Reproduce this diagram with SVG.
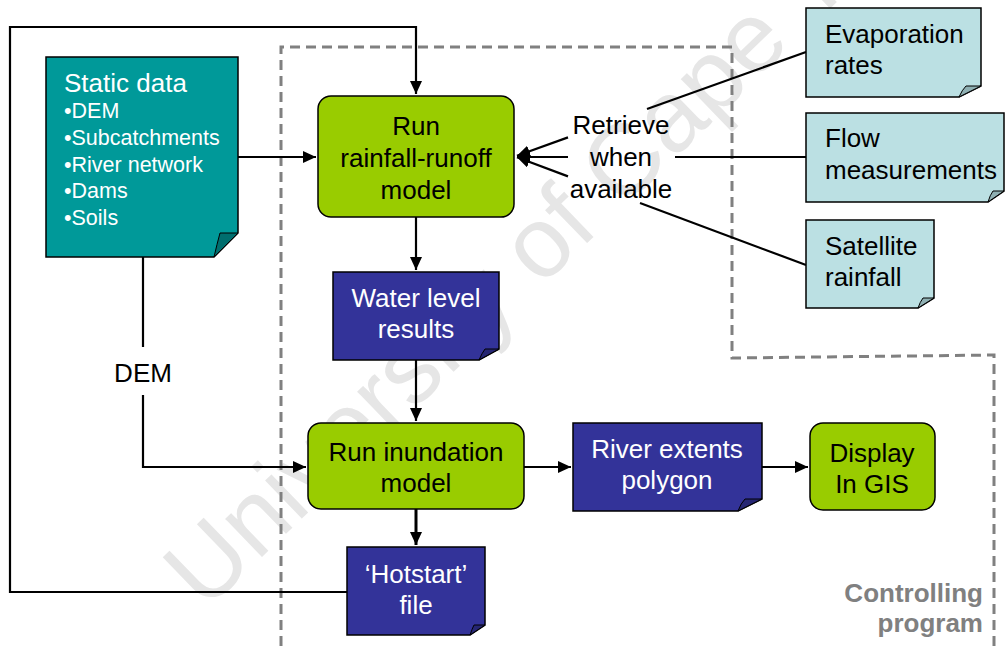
<svg xmlns="http://www.w3.org/2000/svg" width="1005" height="646" viewBox="0 0 1005 646">
<style>
text{font-family:"Liberation Sans",Arial,sans-serif;}
.t{font-size:26px;text-anchor:middle;}
.w{fill:#ffffff;}
.k{fill:#000000;}
.doc{stroke:#000;stroke-width:1.5;}
.fold{stroke:#000;stroke-width:1;}
.g{fill:#99cc00;stroke:#000;stroke-width:1.5;}
.line{fill:none;stroke:#000;stroke-width:2.2;}
.dash{fill:none;stroke:#808080;stroke-width:3;stroke-dasharray:10 6;}
</style>
<defs>
<marker id="ah" markerUnits="userSpaceOnUse" markerWidth="13" markerHeight="12" refX="13" refY="6" orient="auto">
<path d="M0,0 L13,6 L0,12 z" fill="#000"/>
</marker>
</defs>
<rect width="1005" height="646" fill="#fff"/>
<text x="205" y="612" transform="rotate(-44 205 612)" style="font-size:100px;fill:#e6e6e6;">University of Cape Town</text>
<path class="dash" d="M281,646 V47 H732 V358 L994,355 V646"/>
<g id="connectors">
<path class="line" d="M238,157 H316" marker-end="url(#ah)"/>
<path class="line" d="M347,592 H10 V27 H416 V94" marker-end="url(#ah)"/>
<path class="line" d="M416,217 V270" marker-end="url(#ah)"/>
<path class="line" d="M416,360 V421" marker-end="url(#ah)"/>
<path class="line" d="M416,509 V545" style="stroke-width:3" marker-end="url(#ah)"/>
<path class="line" d="M524,467 H571" marker-end="url(#ah)"/>
<path class="line" d="M762,467 H808" marker-end="url(#ah)"/>
<path class="line" d="M143,257 V347"/>
<path class="line" d="M143,395 V467 H306" marker-end="url(#ah)"/>
<path class="line" d="M806,52 L647,109"/>
<path class="line" d="M568,137.4 L517,155.8" marker-end="url(#ah)"/>
<path class="line" d="M806,157 H675"/>
<path class="line" d="M568,157 H517" marker-end="url(#ah)"/>
<path class="line" d="M806,265 L640,203"/>
<path class="line" d="M568,176.4 L517,157.2" marker-end="url(#ah)"/>
<text class="t k" x="621" y="134">Retrieve</text>
<text class="t k" x="621" y="166">when</text>
<text class="t k" x="621" y="198">available</text>
<text class="t k" x="143" y="382">DEM</text>
</g>
<g id="static-data">
<path class="doc" fill="#009999" d="M46,57 H238 V233 L214,257 H46 Z"/>
<path class="fold" fill="#006e6e" d="M214,257 Q217,244 220,233 L238,233 Z"/>
<text x="64" y="92" style="font-size:26px;" class="w">Static data</text>
<text x="64" y="118" style="font-size:21.5px;" class="w">•DEM</text>
<text x="64" y="145" style="font-size:21.5px;" class="w">•Subcatchments</text>
<text x="64" y="172" style="font-size:21.5px;" class="w">•River network</text>
<text x="64" y="198" style="font-size:21.5px;" class="w">•Dams</text>
<text x="64" y="225" style="font-size:21.5px;" class="w">•Soils</text>
</g>
<g id="rainfall-runoff">
<rect class="g" x="318" y="96" width="196" height="121" rx="13"/>
<text class="t k" x="416" y="135">Run</text>
<text class="t k" x="416" y="167">rainfall-runoff</text>
<text class="t k" x="416" y="199">model</text>
</g>
<g id="water-level">
<path class="doc" fill="#333399" d="M333,272 H499 V349 L479,360 H333 Z"/>
<path class="fold" fill="#262673" d="M479,360 Q482,353 485,349 L499,349 Z"/>
<text class="t w" x="416" y="307">Water level</text>
<text class="t w" x="416" y="338">results</text>
</g>
<g id="inundation">
<rect class="g" x="308" y="423" width="216" height="86" rx="13"/>
<text class="t k" x="416" y="461">Run inundation</text>
<text class="t k" x="416" y="492">model</text>
</g>
<g id="hotstart">
<path class="doc" fill="#333399" d="M347,547 H485 V625 L470,635 H347 Z"/>
<path class="fold" fill="#262673" d="M470,635 Q472,629 474,625 L485,625 Z"/>
<text class="t w" x="416" y="583">‘Hotstart’</text>
<text class="t w" x="416" y="614">file</text>
</g>
<g id="river-extents">
<path class="doc" fill="#333399" d="M573,423 H762 V499 L738,511 H573 Z"/>
<path class="fold" fill="#262673" d="M738,511 Q741,503 745,499 L762,499 Z"/>
<text class="t w" x="667" y="458">River extents</text>
<text class="t w" x="667" y="489">polygon</text>
</g>
<g id="display-gis">
<rect class="g" x="810" y="423" width="125" height="87" rx="13"/>
<text class="t k" x="872" y="462">Display</text>
<text class="t k" x="872" y="493">In GIS</text>
</g>
<g id="evaporation">
<path class="doc" fill="#bbe0e3" d="M806,8 H981 V86 L959,97 H806 Z"/>
<path class="fold" fill="#8fb0b3" d="M959,97 Q962,90 966,86 L981,86 Z"/>
<text x="825" y="43" style="font-size:26px;" class="k">Evaporation</text>
<text x="825" y="74" style="font-size:26px;" class="k">rates</text>
</g>
<g id="flow">
<path class="doc" fill="#bbe0e3" d="M806,113 H1004 V191 L988,202 H806 Z"/>
<path class="fold" fill="#8fb0b3" d="M988,202 Q990,195 993,191 L1004,191 Z"/>
<text x="825" y="147" style="font-size:26px;" class="k">Flow</text>
<text x="825" y="179" style="font-size:26px;" class="k">measurements</text>
</g>
<g id="satellite">
<path class="doc" fill="#bbe0e3" d="M806,220 H934 V298 L918,308 H806 Z"/>
<path class="fold" fill="#8fb0b3" d="M918,308 Q920,302 923,298 L934,298 Z"/>
<text x="825" y="255" style="font-size:26px;" class="k">Satellite</text>
<text x="825" y="286" style="font-size:26px;" class="k">rainfall</text>
</g>
<g id="controlling-label">
<text x="983" y="602" style="font-size:26px;font-weight:bold;fill:#808080;text-anchor:end;">Controlling</text>
<text x="983" y="632" style="font-size:26px;font-weight:bold;fill:#808080;text-anchor:end;">program</text>
</g>
</svg>
